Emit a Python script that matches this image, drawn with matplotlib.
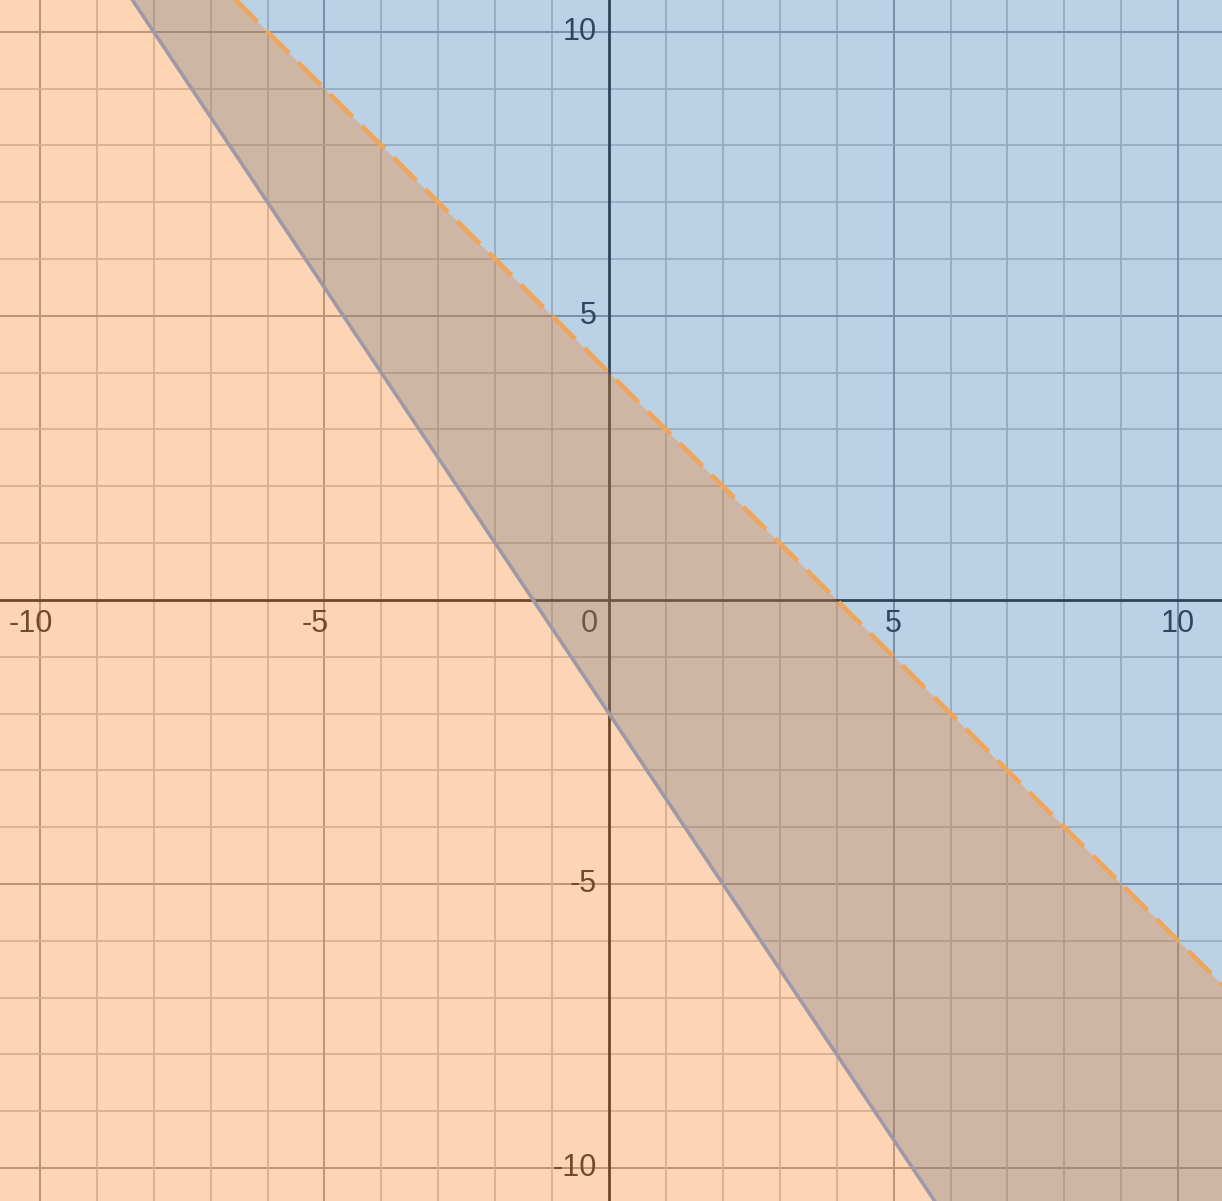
import matplotlib
matplotlib.use("Agg")
import matplotlib.pyplot as plt
import numpy as np

# inequality boundaries: y = slope*x + intercept
solid_slope = -1.5
solid_icpt = -2
dashed_slope = -1
dashed_icpt = 4

xlim = [-10.70, 10.77]
ylim = [-10.58, 10.56]

tick_vals = [-10, -5, 5, 10]
tick_labels = ["-10", "-5", "5", "10"]

blue = "#2d70b3"
orange = "#fa7e19"

plt.rcParams['font.family'] = ['Liberation Sans', 'DejaVu Sans']

fig = plt.figure(figsize=(12.22, 12.01), dpi=100)
ax = fig.add_axes([0, 0, 1, 1])
ax.set_xlim(xlim)
ax.set_ylim(ylim)
ax.set_axis_off()

# grid, drawn under the shaded regions
for v in range(-11, 12):
    if v == 0:
        continue
    if v % 5 == 0:
        col, lw = "#a0a0a0", 1.4
    else:
        col, lw = "#c4c4c4", 1.2
    ax.axvline(v, color=col, lw=lw, zorder=1)
    ax.axhline(v, color=col, lw=lw, zorder=1)
ax.axvline(0, color="#2e2e2e", lw=2.0, zorder=2)
ax.axhline(0, color="#2e2e2e", lw=2.0, zorder=2)

# axis numbers
for v, lab in zip(tick_vals, tick_labels):
    off = -0.16 if v < 0 else 0
    ax.text(v + off, -0.42, lab, ha="center", va="center", fontsize=22, color="#333333", zorder=3)
    ax.text(-0.21, v, lab, ha="right", va="center", fontsize=22, color="#333333", zorder=3)
ax.text(-0.35, -0.42, "0", ha="center", va="center", fontsize=22, color="#333333", zorder=3)

xs = np.array([xlim[0] - 1, xlim[1] + 1])
y_solid = solid_slope * xs + solid_icpt
y_dashed = dashed_slope * xs + dashed_icpt

# y > -1.5x - 2 (blue), y < -x + 4 (orange)
ax.fill_between(xs, y_solid, ylim[1] + 5, color=blue, alpha=0.32, lw=0, zorder=4)
ax.fill_between(xs, ylim[0] - 5, y_dashed, color=orange, alpha=0.32, lw=0, zorder=5)

ax.plot(xs, y_solid, color="#9e99a8", lw=2.6, zorder=6, solid_capstyle="butt")
ax.plot(xs, y_dashed, color="#efa55a", lw=3.3, zorder=6, dashes=(7.0, 2.8), dash_capstyle="butt")

fig.savefig("out.png", dpi=100)
